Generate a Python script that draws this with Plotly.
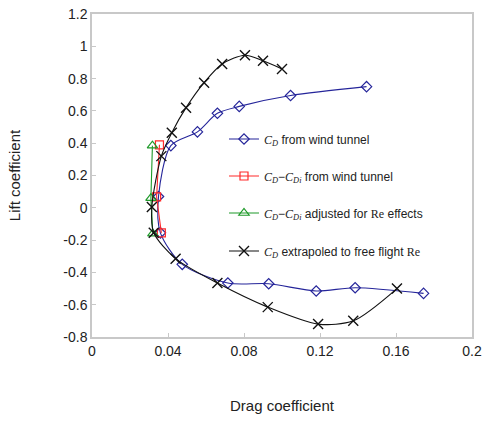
import plotly.graph_objects as go

# Blue: C_D from wind tunnel
blue_x = [0.1445, 0.1045, 0.0775, 0.066, 0.0555, 0.0415, 0.035, 0.036, 0.0475, 0.0715, 0.093, 0.118, 0.1385, 0.1745]
blue_y = [0.75, 0.695, 0.628, 0.585, 0.47, 0.385, 0.07, -0.155, -0.35, -0.466, -0.47, -0.515, -0.495, -0.53]

# Red: C_D - C_Di from wind tunnel
red_x = [0.0355, 0.034, 0.0365]
red_y = [0.39, 0.068, -0.155]

# Green: C_D - C_Di adjusted for Re effects
green_x = [0.0318, 0.031, 0.032]
green_y = [0.385, 0.06, -0.16]

# Black: C_D extrapolated to free flight Re
black_x = [0.1, 0.09, 0.0805, 0.0685, 0.059, 0.0495, 0.042, 0.0365, 0.0315, 0.0325, 0.044, 0.066, 0.0925, 0.119, 0.1375, 0.1605]
black_y = [0.86, 0.91, 0.945, 0.89, 0.775, 0.62, 0.465, 0.32, 0.005, -0.155, -0.315, -0.466, -0.615, -0.72, -0.70, -0.50]

x_ticks = [0, 0.04, 0.08, 0.12, 0.16, 0.2]
x_labels = ["0", "0.04", "0.08", "0.12", "0.16", "0.2"]
y_ticks = [-0.8, -0.6, -0.4, -0.2, 0, 0.2, 0.4, 0.6, 0.8, 1, 1.2]
y_labels = ["-0.8", "-0.6", "-0.4", "-0.2", "0", "0.2", "0.4", "0.6", "0.8", "1", "1.2"]

SERIF = "font-family:'Liberation Serif','DejaVu Serif',serif"
CD = f"<span style=\"{SERIF}\"><i>C</i><sub><i>D</i></sub></span>"
CDI = f"<span style=\"{SERIF}\"><i>C</i><sub><i>Di</i></sub></span>"
RE = f"<span style=\"{SERIF}\">Re</span>"

names = [
    f"{CD} from wind tunnel",
    f"{CD}−{CDI} from wind tunnel",
    f"{CD}−{CDI} adjusted for {RE} effects",
    f"{CD} extrapoled to free flight {RE}",
]

BLUE = "#25259a"
RED = "#ff2a2a"
GREEN = "#1f9a2a"
BLACK = "#111111"

fig = go.Figure()
fig.add_trace(go.Scatter(x=blue_x, y=blue_y, mode="lines+markers", name=names[0],
                         line=dict(color=BLUE, width=1.1, shape="spline", smoothing=0.8),
                         marker=dict(symbol="diamond-open", size=8, color=BLUE, line=dict(width=1.2)),
                         legend="legend"))
fig.add_trace(go.Scatter(x=red_x, y=red_y, mode="lines+markers", name=names[1],
                         line=dict(color=RED, width=1.1),
                         marker=dict(symbol="square-open", size=8, color=RED, line=dict(width=1.2)),
                         legend="legend2"))
fig.add_trace(go.Scatter(x=green_x, y=green_y, mode="lines+markers", name=names[2],
                         line=dict(color=GREEN, width=1.1),
                         marker=dict(symbol="triangle-up-open", size=9, color=GREEN, line=dict(width=1.2)),
                         legend="legend3"))
fig.add_trace(go.Scatter(x=black_x, y=black_y, mode="lines+markers", name=names[3],
                         line=dict(color=BLACK, width=1.1, shape="spline", smoothing=0.8),
                         marker=dict(symbol="x-thin-open", size=10, color=BLACK, line=dict(width=1.4, color=BLACK)),
                         legend="legend4"))

W, H = 486, 421
L, R, T, B = 92, 14, 14, 84
pw, ph = W - L - R, H - T - B

def ly(py):
    return (H - B - py) / ph

legend_x = (224 - L) / pw
common = dict(x=legend_x, xanchor="left", yanchor="middle", bgcolor="rgba(0,0,0,0)",
              font=dict(family="Liberation Sans, Arial, sans-serif", size=12, color="#222"),
              itemwidth=30, tracegroupgap=0, borderwidth=0)

fig.update_layout(
    width=W, height=H,
    margin=dict(l=L, r=R, t=T, b=B, autoexpand=False),
    paper_bgcolor="white", plot_bgcolor="white",
    font=dict(family="Liberation Sans, Arial, sans-serif", color="#222"),
    showlegend=True,
    legend=dict(y=ly(139), **common),
    legend2=dict(y=ly(176), **common),
    legend3=dict(y=ly(213), **common),
    legend4=dict(y=ly(251), **common),
    xaxis=dict(range=[0, 0.2], tickvals=x_ticks, ticktext=x_labels, automargin=False,
               showgrid=False, zeroline=False, showline=True, linecolor="#c8c8c8", linewidth=1.5,
               mirror=True, ticks="inside", ticklen=4, tickcolor="#c8c8c8",
               tickfont=dict(size=14, color="#222"),
               title=dict(text="Drag coefficient", font=dict(size=15, color="#222"), standoff=43)),
    yaxis=dict(range=[-0.8, 1.2], tickvals=y_ticks, ticktext=y_labels, automargin=False,
               showgrid=False, zeroline=False, showline=True, linecolor="#c8c8c8", linewidth=1.5,
               mirror=True, ticks="inside", ticklen=4, tickcolor="#c8c8c8",
               tickfont=dict(size=14, color="#222"),
               title=dict(text="Lift coefficient", font=dict(size=15, color="#222"), standoff=39)),
)

fig.write_html("out.html", config={"displayModeBar": False},
               post_script="document.body.style.margin='0';")
